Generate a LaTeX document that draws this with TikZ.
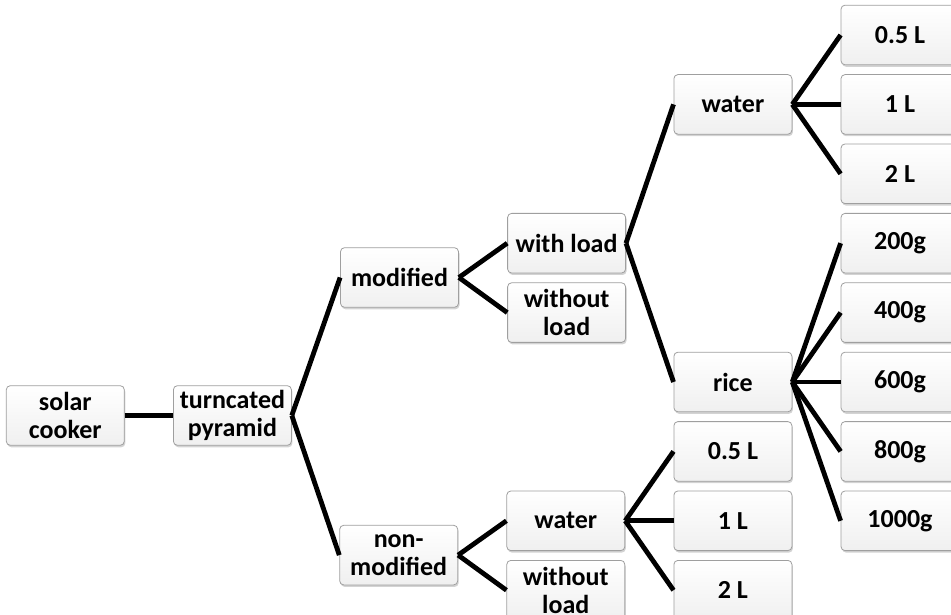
\documentclass[tikz,border=0pt]{standalone}
\usepackage{fontspec}
\setmainfont{Carlito}
\usepackage{tikz}
\usetikzlibrary{positioning}
\usetikzlibrary{shadows}
\tikzstyle{box} = [draw=gray!75,line width=0.8pt,rounded corners=4pt,top color=white,bottom color=gray!12,drop shadow={shadow xshift=1pt,shadow yshift=-2pt,opacity=0.35},minimum width=118pt,minimum height=59.6pt,inner sep=1pt,align=center,font=\fontsize{26}{28}\selectfont\bfseries]
\tikzstyle{link} = [line width=4.8pt]

\begin{document}
\begin{tikzpicture}[x=1pt,y=1pt]
	\useasboundingbox (0,0) rectangle (951,614);
	
	%Nodes
	\node [box] (halfLa) at (900,579) {0.5 L};
	\node [box, below=9pt of halfLa] (oneLa) {1 L};
	\node [box, below=9pt of oneLa] (twoLa) {2 L};
	\node [box, below=9pt of twoLa] (g200) {200g};
	\node [box, below=9pt of g200] (g400) {400g};
	\node [box, below=9pt of g400] (g600) {600g};
	\node [box, below=9pt of g600] (g800) {800g};
	\node [box, below=9pt of g800] (g1000) {1000g};
	
	\node [box, left=48.3pt of oneLa] (waterA) {water};
	\node [box, left=48.3pt of g600] (rice) {rice};
	\node [box, left=48.3pt of g800] (halfLb) {0.5 L};
	\node [box, left=48.3pt of g1000] (oneLb) {1 L};
	\node [box, below=9pt of oneLb] (twoLb) {2 L};
	
	\node [box, left=214.6pt of g200] (withLoad) {with load};
	\node [box, below=9pt of withLoad] (withoutLoadA) {without\\load};
	\node [box, left=48.3pt of oneLb] (waterB) {water};
	\node [box, left=48.3pt of twoLb] (withoutLoadB) {without\\load};
	
	\node [box, left=48.3pt of withLoad, yshift=-34.3pt] (modified) {modified};
	\node [box, left=48.3pt of waterB, yshift=-34.3pt] (nonModified) {non-\\modified};
	\node [box, below left=77.6pt and 48.3pt of modified] (pyramid) {turncated\\pyramid};
	\node [box, left=48.3pt of pyramid] (solarCooker) {solar\\cooker};
	
	%Lines
	\draw[link] (solarCooker.east) -- (pyramid.west);
	\draw[link] (pyramid.east) -- (modified.west);
	\draw[link] (pyramid.east) -- (nonModified.west);
	\draw[link] (modified.east) -- (withLoad.west);
	\draw[link] (modified.east) -- (withoutLoadA.west);
	\draw[link] (nonModified.east) -- (waterB.west);
	\draw[link] (nonModified.east) -- (withoutLoadB.west);
	\draw[link] (withLoad.east) -- (waterA.west);
	\draw[link] (withLoad.east) -- (rice.west);
	\draw[link] (waterA.east) -- (halfLa.west);
	\draw[link] (waterA.east) -- (oneLa.west);
	\draw[link] (waterA.east) -- (twoLa.west);
	\draw[link] (rice.east) -- (g200.west);
	\draw[link] (rice.east) -- (g400.west);
	\draw[link] (rice.east) -- (g600.west);
	\draw[link] (rice.east) -- (g800.west);
	\draw[link] (rice.east) -- (g1000.west);
	\draw[link] (waterB.east) -- (halfLb.west);
	\draw[link] (waterB.east) -- (oneLb.west);
	\draw[link] (waterB.east) -- (twoLb.west);
\end{tikzpicture}
\end{document}
